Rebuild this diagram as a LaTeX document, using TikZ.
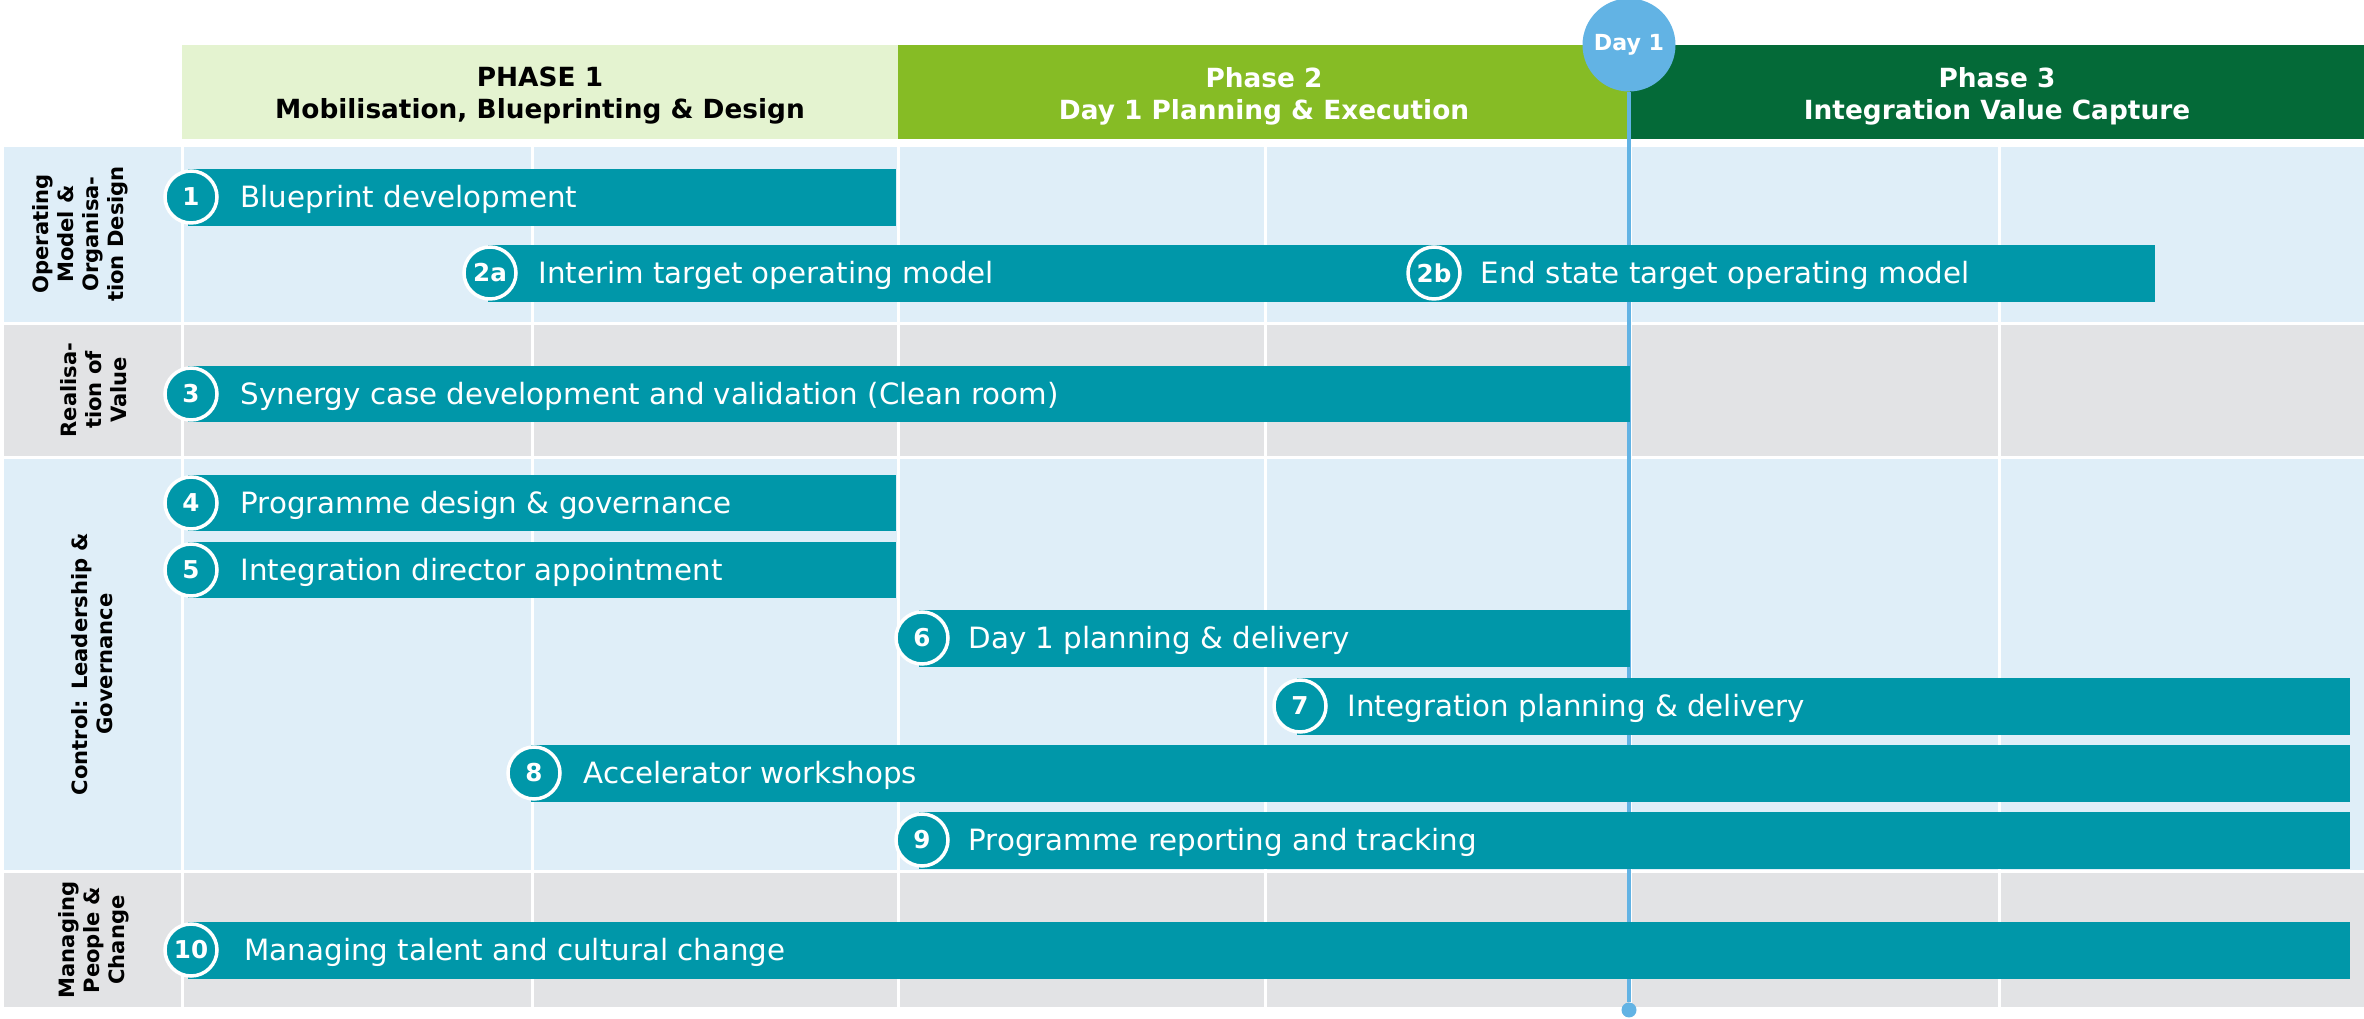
\documentclass[tikz,border=0pt]{standalone}
\usepackage{fontspec}
\setmainfont{DejaVu Sans}
\usepackage{tikz}

\definecolor{barteal}{HTML}{0097A9}
\definecolor{phaseone}{HTML}{E4F3D0}
\definecolor{phasetwo}{HTML}{86BC25}
\definecolor{phasethree}{HTML}{046A38}
\definecolor{dayblue}{HTML}{62B3E4}
\definecolor{rowblue}{HTML}{DFEEF8}
\definecolor{rowgrey}{HTML}{E2E3E5}

\begin{document}
\begin{tikzpicture}[x=0.1mm, y=-0.1mm,
    num/.style={circle, draw=white, line width=0.35mm, fill=barteal, minimum size=5.2mm,
      inner sep=0pt, text=white, font=\fontsize{7}{8}\selectfont\bfseries},
    task/.style={anchor=west, inner sep=0pt, text=white, text height=6.1pt, text depth=0pt,
      font=\fontsize{8.34}{10}\selectfont},
    phase/.style={align=center, font=\fontsize{7.5}{9.1}\selectfont\bfseries},
    lane/.style={rotate=90, align=center, font=\fontsize{6}{7.1}\selectfont\bfseries},
    colline/.style={white, line width=0.3mm}]

    \useasboundingbox (0,0) rectangle (2364,1019);

    % phase headers
    \fill[phaseone]   (182,45) rectangle (898,139);
    \fill[phasetwo]   (898,45) rectangle (1630,139);
    \fill[phasethree] (1630,45) rectangle (2364,139);
    \node[phase] at (540,96)  (ph1) {PHASE 1\\Mobilisation, Blueprinting \& Design};
    \node[phase, text=white] at (1264,96) (ph2) {Phase 2\\Day 1 Planning \& Execution};
    \node[phase, text=white] at (1997,96) (ph3) {Phase 3\\Integration Value Capture};

    % swim lanes
    \fill[rowblue] (4,147) rectangle (2364,322);
    \fill[rowgrey] (4,325) rectangle (2364,456);
    \fill[rowblue] (4,459) rectangle (2364,870);
    \fill[rowgrey] (4,873) rectangle (2364,1007);
    \foreach \x in {182,532,898,1265,1630,1999}
      \draw[colline] (\x,147) -- (\x,1007);

    \node[lane] at (80,234) (lopm) {Operating\\Model \&\\Organisa-\\tion Design};
    \node[lane] at (94,390) (lval) {Realisa-\\tion of\\Value};
    \node[lane] at (92,664) (lctl) {Control: Leadership \&\\Governance};
    \node[lane] at (94,940) (lppl) {Managing\\People \&\\Change};

    % day 1 marker
    \node[circle, fill=dayblue, minimum size=9.3mm, inner sep=0pt, text=white,
      font=\fontsize{6.3}{7}\selectfont\bfseries] at (1629,45) (day1) {Day 1};
    \node[circle, fill=dayblue, minimum size=1.5mm, inner sep=0pt] at (1629,1010) (dend) {};
    \draw[dayblue, line width=0.38mm] (day1) -- (dend);

    % activity bars
    \fill[barteal] (188,169) rectangle (896,226);
    \fill[barteal] (488,245) rectangle (2155,302);
    \fill[barteal] (188,366) rectangle (1630,422);
    \fill[barteal] (188,475) rectangle (896,531);
    \fill[barteal] (188,542) rectangle (896,598);
    \fill[barteal] (919,610) rectangle (1630,667);
    \fill[barteal] (1297,678) rectangle (2350,735);
    \fill[barteal] (531,745) rectangle (2350,802);
    \fill[barteal] (919,812) rectangle (2350,869);
    \fill[barteal] (188,922) rectangle (2350,979);

    \node[num] at (191,197)  (n1)  {1};
    \node[num] at (490,273)  (n2a) {2a};
    \node[num] at (1434,273) (n2b) {2b};
    \node[num] at (191,394)  (n3)  {3};
    \node[num] at (191,503)  (n4)  {4};
    \node[num] at (191,570)  (n5)  {5};
    \node[num] at (922,638)  (n6)  {6};
    \node[num] at (1300,706) (n7)  {7};
    \node[num] at (534,773)  (n8)  {8};
    \node[num] at (922,840)  (n9)  {9};
    \node[num] at (191,950)  (n10) {10};

    \node[task] at (240,197)  (t1)  {Blueprint development};
    \node[task] at (538,273)  (t2a) {Interim target operating model};
    \node[task] at (1480,273) (t2b) {End state target operating model};
    \node[task] at (240,394)  (t3)  {Synergy case development and validation (Clean room)};
    \node[task] at (240,503)  (t4)  {Programme design \& governance};
    \node[task] at (240,570)  (t5)  {Integration director appointment};
    \node[task] at (968,638)  (t6)  {Day 1 planning \& delivery};
    \node[task] at (1347,706) (t7)  {Integration planning \& delivery};
    \node[task] at (583,773)  (t8)  {Accelerator workshops};
    \node[task] at (968,840)  (t9)  {Programme reporting and tracking};
    \node[task] at (244,950)  (t10) {Managing talent and cultural change};

  \end{tikzpicture}
\end{document}
